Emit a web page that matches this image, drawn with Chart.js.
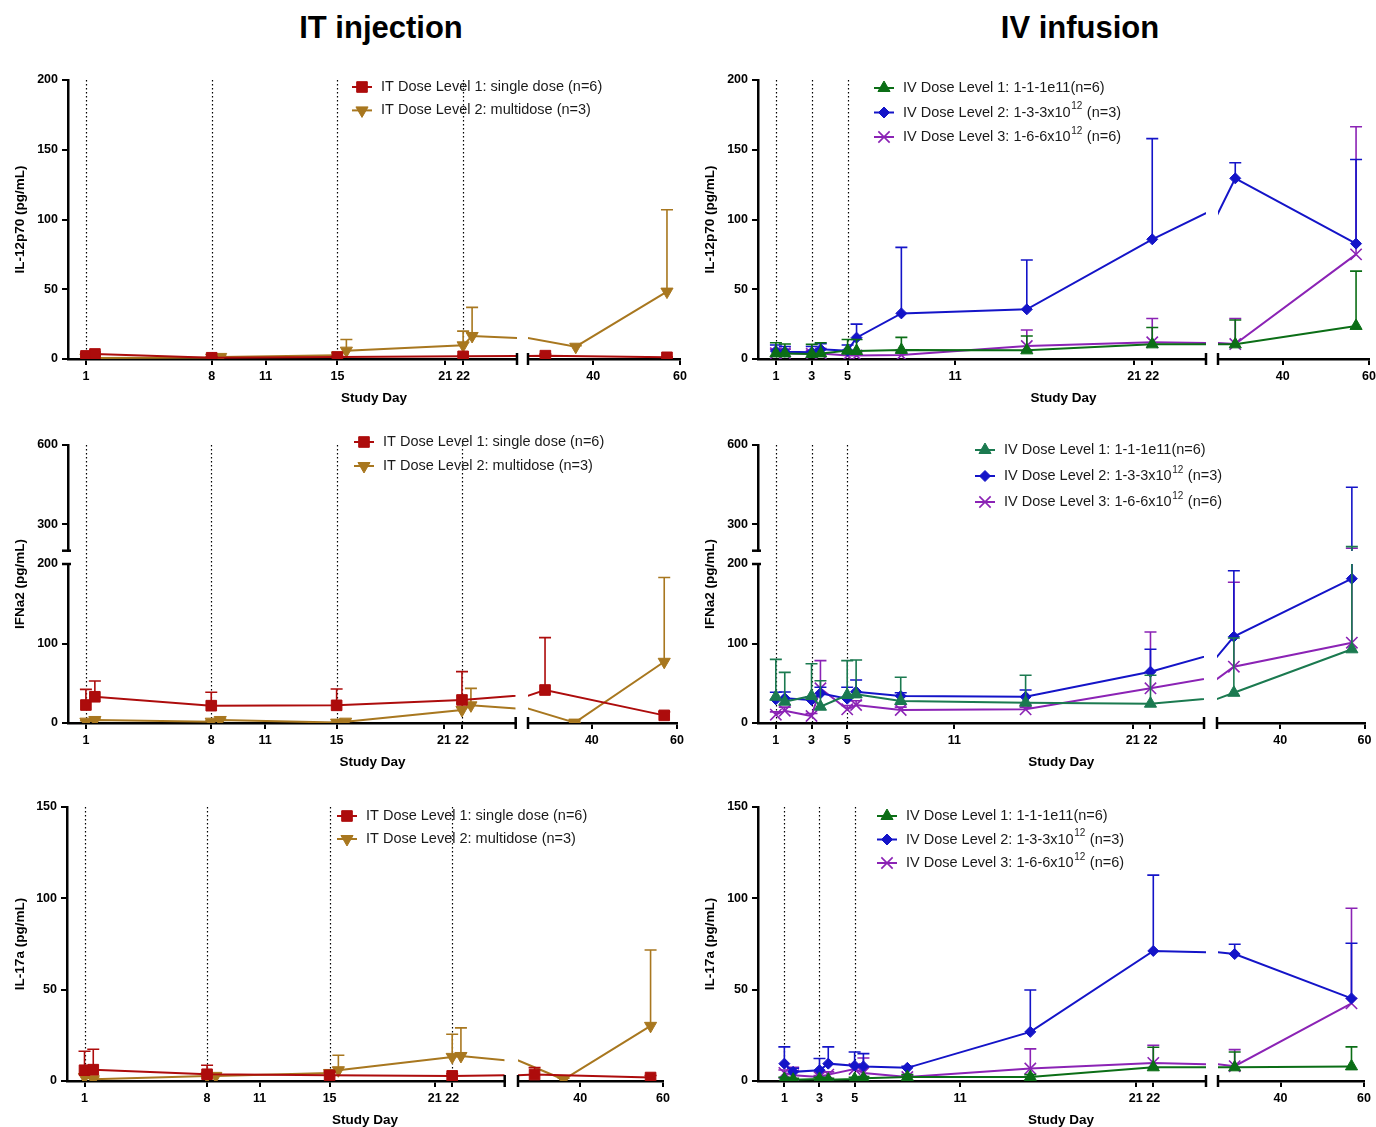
<!DOCTYPE html>
<html>
<head>
<meta charset="utf-8">
<script src="https://cdn.jsdelivr.net/npm/chart.js@4.4.1/dist/chart.umd.min.js"></script>
<style>
  body { margin: 0; background: #fff; width: 1376px; height: 1127px; position: relative; overflow: hidden;
         font-family: "Liberation Sans", Arial, sans-serif; }
  .col-title { position: absolute; top: 12px; width: 400px; text-align: center; font-weight: bold;
               font-size: 31px; line-height: 31px; color: #000; }
  canvas { position: absolute; }
</style>
</head>
<body>
<div class="col-title" style="left:181px">IT injection</div>
<div class="col-title" style="left:880px">IV infusion</div>
<canvas id="p1" width="690" height="350" style="left:0;top:60px"></canvas>
<canvas id="p2" width="686" height="350" style="left:690px;top:60px"></canvas>
<canvas id="p3" width="690" height="350" style="left:0;top:425px"></canvas>
<canvas id="p4" width="686" height="350" style="left:690px;top:425px"></canvas>
<canvas id="p5" width="690" height="337" style="left:0;top:790px"></canvas>
<canvas id="p6" width="686" height="337" style="left:690px;top:790px"></canvas>
<script>
// sampling days
const IT_DAYS_1 = [1, 1.5, 8, 15, 22, 29, 57];
const IT_DAYS_2 = [1, 1.5, 8, 8.5, 15, 15.5, 22, 22.5, 36, 57];
const IV_DAYS = [1, 1.5, 3, 3.5, 5, 5.5, 8, 15, 22, 29, 57];

// axis ticks
const IT_TICKS_LEFT = [1, 8, 11, 15, 21, 22];
const IV_TICKS_LEFT = [1, 3, 5, 11, 21, 22];
const TICKS_RIGHT = [40, 60];
const IT_DOSE_DAYS = [1, 8, 15, 22];
const IV_DOSE_DAYS = [1, 3, 5];
const Y_TICKS_IL12 = [0, 50, 100, 150, 200];
const Y_TICKS_IFN_LOW = [0, 100, 200];
const Y_TICKS_IFN_HIGH = [300, 600];
const Y_TICKS_IL17 = [0, 50, 100, 150];

// legend labels (text, superscript, tail)
const IT_LABELS = [['IT Dose Level 1: single dose (n=6)'], ['IT Dose Level 2: multidose (n=3)']];
const IV_LABELS = [['IV Dose Level 1: 1-1-1e11(n=6)'], ['IV Dose Level 2: 1-3-3x10', '12', ' (n=3)'], ['IV Dose Level 3: 1-6-6x10', '12', ' (n=6)']];

// IL-12p70 mean and upper error
const IL12_IT1 = [2.2, 3.6, 0.9, 1.4, 1.9, 2.4, 1.2];
const IL12_IT1_ERR = [4, 5, 1.5, 2, 2.5, 3.5, 1.5];
const IL12_IT2 = [0.8, 0.8, 1, 1.5, 2.6, 6, 9.8, 16.5, 8.8, 48.3];
const IL12_IT2_ERR = [1.5, 1.5, 1.5, 2, 4, 14, 20, 37, 9.5, 107];
const IL12_IV1 = [4, 4, 3.5, 4, 6, 5.7, 6.5, 6.2, 10.5, 10.5, 23.7];
const IL12_IV1_ERR = [11.7, 10.8, 10.5, 11.7, 14, 14, 15.5, 16.5, 22.6, 28, 63];
const IL12_IV2 = [5.7, 5.2, 4.8, 6.9, 6, 15.3, 32.7, 35.6, 85.8, 129.5, 82.7];
const IL12_IV2_ERR = [10, 9, 9, 11, 10, 25, 80, 71, 158, 140.7, 143];
const IL12_IV3 = [4.2, 4.2, 3.7, 4, 2.5, 2.5, 2.8, 9.3, 12, 10.7, 75];
const IL12_IV3_ERR = [7, 7, 6, 7, 5, 5, 5, 20.8, 29, 29, 166.5];

// IFNa2
const IFN_IT1 = [22.6, 33, 21.8, 22.2, 29, 41.5, 9.6];
const IFN_IT1_ERR = [42.3, 52.8, 38.6, 42.7, 64.6, 107.4, 14];
const IFN_IT2 = [1.7, 3.8, 1.7, 3.8, 0.5, 1.7, 16.4, 22.2, 0.5, 77];
const IFN_IT2_ERR = [3, 5, 3, 5, 1, 3, 25, 43.6, 1, 183];
const IFN_IV1 = [33, 26.8, 34, 20.5, 35.2, 36, 27.7, 25.6, 24.3, 38, 92.7];
const IFN_IV1_ERR = [80, 63.7, 74.6, 53.2, 78.4, 79.2, 57.5, 60, 60, 107, 215.5];
const IFN_IV2 = [29.8, 31, 29, 37.3, 30.6, 39.4, 34, 32.9, 64.5, 108.6, 181.5];
const IFN_IV2_ERR = [38.6, 39, 33, 45, 45, 54, 38, 41.5, 92.7, 191.6, 440];
const IFN_IV3 = [10.5, 15.5, 8.8, 43.6, 17.2, 22.6, 16.4, 17.2, 43.6, 70.8, 101];
const IFN_IV3_ERR = [14, 20, 12, 78.4, 22, 28, 20, 20, 114.5, 177, 209];

// IL-17a
const IL17_IT1 = [5.9, 6.2, 3.7, 3.1, 2.8, 3.5, 1.9];
const IL17_IT1_ERR = [16.3, 17.4, 8.6, 5, 4, 7.3, 3];
const IL17_IT2 = [2.2, 1, 2.8, 2.8, 4.4, 5.9, 13.2, 13.7, 0.8, 30.2];
const IL17_IT2_ERR = [4, 2, 4, 4, 6, 14.1, 25.6, 29.1, 1.5, 71.7];
const IL17_IV1 = [1.1, 0.7, 1.1, 0.7, 1.1, 1.5, 2.2, 2.2, 7.5, 7.5, 8];
const IL17_IV1_ERR = [2, 1.5, 2, 1.5, 2, 2.5, 3.5, 3.5, 18.5, 15.9, 18.7];
const IL17_IV2 = [9.5, 5, 5.9, 9.5, 8.4, 8, 7.2, 26.9, 71.2, 69.5, 45.2];
const IL17_IV2_ERR = [18.7, 7, 12.3, 18.7, 15.9, 15, 8, 49.8, 112.7, 74.9, 75.4];
const IL17_IV3 = [4.4, 3.1, 2.2, 3.5, 6.6, 4.4, 2.2, 6.8, 9.9, 8.1, 42.5];
const IL17_IV3_ERR = [6, 7.5, 3, 5, 9, 12.6, 3, 17.6, 19.6, 17.2, 94.6];

const RED = '#AD0C0C', GOLD = '#A8771F', GREEN = '#0B6E16', TEAL = '#1B7A50', BLUE = '#1414C8', PURPLE = '#8B23B5';
const FONT = '"Liberation Sans", Arial, sans-serif';
const XH = 30;

Chart.defaults.font.family = FONT;
Chart.defaults.color = '#000';

function itSeries(v1, e1, v2, e2) {
  return [
    {days: IT_DAYS_1, vals: v1, err: e1, color: RED, style: 'rect', rot: 0, radius: 7.5},
    {days: IT_DAYS_2, vals: v2, err: e2, color: GOLD, style: 'triangle', rot: 180, radius: 7}
  ];
}
function ivSeries(green, v1, e1, v2, e2, v3, e3) {
  return [
    {days: IV_DAYS, vals: v1, err: e1, color: green, style: 'triangle', rot: 0, radius: 7},
    {days: IV_DAYS, vals: v2, err: e2, color: BLUE, style: 'rectRot', rot: 0, radius: 5.5},
    {days: IV_DAYS, vals: v3, err: e3, color: PURPLE, style: 'crossRot', rot: 0, radius: 8}
  ];
}

const PANELS = {
  p1: {left: 0, top: 60, w: 690, h: 350, area: {l: 68, r: 680, t: 80, b: 359}, xw: [449, 11, 152], xMin: 0,
       yMax: 200, yTicks: Y_TICKS_IL12, yTitle: 'IL-12p70 (pg/mL)', ticksLeft: IT_TICKS_LEFT, doseDays: IT_DOSE_DAYS,
       legend: {x: 362, y: 27, dy: 23.4, labels: IT_LABELS},
       series: itSeries(IL12_IT1, IL12_IT1_ERR, IL12_IT2, IL12_IT2_ERR)},
  p2: {left: 690, top: 60, w: 686, h: 350, area: {l: 758, r: 1369, t: 80, b: 359}, xw: [448, 12, 151], xMin: 0,
       yMax: 200, yTicks: Y_TICKS_IL12, yTitle: 'IL-12p70 (pg/mL)', ticksLeft: IV_TICKS_LEFT, doseDays: IV_DOSE_DAYS,
       legend: {x: 194, y: 28, dy: 24.5, labels: IV_LABELS},
       series: ivSeries(GREEN, IL12_IV1, IL12_IV1_ERR, IL12_IV2, IL12_IV2_ERR, IL12_IV3, IL12_IV3_ERR)},
  p3: {left: 0, top: 425, w: 690, h: 350, area: {l: 68, r: 677, t: 445, b: 723}, xw: [447.7, 12.3, 149], xMin: 0,
       yBreak: true, yw: [105.7, 13.3, 159], yTicks: Y_TICKS_IFN_LOW, yTicksHigh: Y_TICKS_IFN_HIGH,
       yTitle: 'IFNa2 (pg/mL)', ticksLeft: IT_TICKS_LEFT, doseDays: IT_DOSE_DAYS,
       legend: {x: 364, y: 17, dy: 24, labels: IT_LABELS},
       series: itSeries(IFN_IT1, IFN_IT1_ERR, IFN_IT2, IFN_IT2_ERR)},
  p4: {left: 690, top: 425, w: 686, h: 350, area: {l: 758, r: 1364.5, t: 445, b: 723}, xw: [446, 13, 147.5], xMin: 0,
       yBreak: true, yw: [105.7, 13.3, 159], yTicks: Y_TICKS_IFN_LOW, yTicksHigh: Y_TICKS_IFN_HIGH,
       yTitle: 'IFNa2 (pg/mL)', ticksLeft: IV_TICKS_LEFT, doseDays: IV_DOSE_DAYS,
       legend: {x: 295, y: 25, dy: 26, labels: IV_LABELS},
       series: ivSeries(TEAL, IFN_IV1, IFN_IV1_ERR, IFN_IV2, IFN_IV2_ERR, IFN_IV3, IFN_IV3_ERR)},
  p5: {left: 0, top: 790, w: 690, h: 337, area: {l: 67, r: 663, t: 807, b: 1081}, xw: [437.7, 13.3, 145], xMin: 0,
       yMax: 150, yTicks: Y_TICKS_IL17, yTitle: 'IL-17a (pg/mL)', ticksLeft: IT_TICKS_LEFT, doseDays: IT_DOSE_DAYS,
       legend: {x: 347, y: 26, dy: 23, labels: IT_LABELS},
       series: itSeries(IL17_IT1, IL17_IT1_ERR, IL17_IT2, IL17_IT2_ERR)},
  p6: {left: 690, top: 790, w: 686, h: 337, area: {l: 758, r: 1364, t: 807, b: 1081}, xw: [448, 12, 146], xMin: -0.5,
       yMax: 150, yTicks: Y_TICKS_IL17, yTitle: 'IL-17a (pg/mL)', ticksLeft: IV_TICKS_LEFT, doseDays: IV_DOSE_DAYS,
       legend: {x: 197, y: 26, dy: 23.5, labels: IV_LABELS},
       series: ivSeries(GREEN, IL17_IV1, IL17_IV1_ERR, IL17_IV2, IL17_IV2_ERR, IL17_IV3, IL17_IV3_ERR)}
};

function marker(ctx, s, x, y) {
  ctx.fillStyle = s.color; ctx.strokeStyle = s.color;
  ctx.lineWidth = s.style === 'crossRot' ? 1.6 : 1;
  if (Chart.helpers && Chart.helpers.drawPoint) {
    Chart.helpers.drawPoint(ctx, {pointStyle: s.style, rotation: s.rot, radius: s.radius, borderWidth: ctx.lineWidth}, x, y);
  } else {
    ctx.beginPath(); ctx.arc(x, y, 5, 0, Math.PI * 2); ctx.fill();
  }
}

const brokenAxisPlugin = {
  id: 'brokenAxis',
  beforeDatasetsDraw(chart) {
    const p = PANELS[chart.canvas.id];
    const ctx = chart.ctx, area = chart.chartArea, xl = chart.scales.xL;
    ctx.save();
    ctx.strokeStyle = '#000'; ctx.lineWidth = 1.2; ctx.setLineDash([1.4, 2.6]);
    p.doseDays.forEach(d => {
      const x = Math.round(xl.getPixelForValue(d)) + 0.5;
      ctx.beginPath(); ctx.moveTo(x, area.top); ctx.lineTo(x, area.bottom); ctx.stroke();
    });
    ctx.restore();
  },
  beforeDatasetDraw(chart, args) {
    const p = PANELS[chart.canvas.id];
    const ctx = chart.ctx, area = chart.chartArea, xs = args.meta.xScale;
    const ys = chart.scales.y, yU = chart.scales.yU;
    ctx.save();
    ctx.beginPath();
    ctx.rect(xs.left, area.top - 12, xs.right - xs.left, area.bottom - area.top + 24);
    ctx.clip();
    // one-sided error bars, drawn under the markers
    const s = p.series[Math.floor(args.index / 2)];
    ctx.strokeStyle = s.color; ctx.lineWidth = 1.6;
    s.days.forEach((d, i) => {
      const hi = s.err[i], v = s.vals[i];
      if (hi == null || hi <= v) return;
      const x = xs.getPixelForValue(d);
      const y0 = ys.getPixelForValue(v);
      let y1;
      ctx.beginPath();
      if (yU && hi > ys.max) {
        ctx.moveTo(x, y0); ctx.lineTo(x, ys.top);
        y1 = yU.getPixelForValue(hi);
        ctx.moveTo(x, yU.bottom); ctx.lineTo(x, y1);
      } else {
        y1 = ys.getPixelForValue(hi);
        ctx.moveTo(x, y0); ctx.lineTo(x, y1);
      }
      ctx.moveTo(x - 6, y1); ctx.lineTo(x + 6, y1);
      ctx.stroke();
    });
  },
  afterDatasetDraw(chart) {
    chart.ctx.restore();
  },
  afterDraw(chart) {
    const p = PANELS[chart.canvas.id];
    const ctx = chart.ctx, area = chart.chartArea;
    const xL = chart.scales.xL, xR = chart.scales.xR, ys = chart.scales.y, yU = chart.scales.yU;
    ctx.save();
    // break marks
    ctx.strokeStyle = '#000'; ctx.lineWidth = 2.5;
    [xL.right, xR.left].forEach(x => {
      ctx.beginPath(); ctx.moveTo(x, area.bottom - 6); ctx.lineTo(x, area.bottom + 6); ctx.stroke();
    });
    if (yU) {
      [yU.bottom, ys.top].forEach(y => {
        ctx.beginPath(); ctx.moveTo(area.left - 6, y); ctx.lineTo(area.left + 3, y); ctx.stroke();
      });
    }
    // axis titles
    ctx.fillStyle = '#000';
    ctx.font = 'bold 13.5px ' + FONT;
    ctx.textAlign = 'center'; ctx.textBaseline = 'middle';
    ctx.fillText('Study Day', (area.left + area.right) / 2, area.bottom + 39);
    ctx.save();
    ctx.translate(20, (area.top + area.bottom) / 2);
    ctx.rotate(-Math.PI / 2);
    ctx.fillText(p.yTitle, 0, 0);
    ctx.restore();
    // legend
    const lg = p.legend;
    p.series.forEach((s, i) => {
      const y = lg.y + i * lg.dy;
      ctx.strokeStyle = s.color; ctx.lineWidth = 2;
      ctx.beginPath(); ctx.moveTo(lg.x - 10, y); ctx.lineTo(lg.x + 10, y); ctx.stroke();
      marker(ctx, s, lg.x, y);
      const parts = lg.labels[i];
      ctx.fillStyle = '#1a1a1a'; ctx.textAlign = 'left'; ctx.textBaseline = 'middle';
      let x = lg.x + 19;
      ctx.font = '14.5px ' + FONT;
      ctx.fillText(parts[0], x, y); x += ctx.measureText(parts[0]).width;
      if (parts[1]) {
        ctx.font = '10px ' + FONT;
        ctx.fillText(parts[1], x + 0.5, y - 6); x += ctx.measureText(parts[1]).width + 1;
        ctx.font = '14.5px ' + FONT;
        ctx.fillText(parts[2], x, y);
      }
    });
    ctx.restore();
  }
};

function buildPanel(id) {
  const p = PANELS[id];
  const YW = p.area.l - p.left;
  const padTop = p.area.t - p.top;
  const padRight = p.left + p.w - p.area.r;
  const padBottom = p.h - (p.area.b - p.top) - XH;
  const zeroPad = s => { s.paddingTop = 0; s.paddingBottom = 0; s.paddingLeft = 0; s.paddingRight = 0; };
  const fixW = s => { s.width = YW; zeroPad(s); };
  const fixH = s => { s.height = XH; zeroPad(s); };
  const border = {display: true, color: '#000', width: 2.5};
  const grid = {display: true, drawOnChartArea: false, drawTicks: true, tickLength: 6, color: '#000', lineWidth: 2};
  const tickFont = {size: 12.5, weight: 'bold'};

  const spacer = (axis, pos, weight, sw, fit) => ({
    type: 'linear', axis: axis, position: pos, display: true, min: 0, max: 1,
    stack: axis + 's', stackWeight: sw, weight: weight,
    grid: {display: false}, border: {display: false}, ticks: {display: false}, afterFit: fit
  });
  const xAxis = (min, max, ticks, weight, sw) => ({
    type: 'linear', axis: 'x', position: 'bottom', min: min, max: max,
    stack: 'xs', stackWeight: sw, weight: weight, border: border, grid: grid,
    ticks: {color: '#000', font: tickFont, padding: 4, autoSkip: false, maxRotation: 0, callback: v => String(v)},
    afterBuildTicks: a => { a.ticks = ticks.map(v => ({value: v})); },
    afterFit: fixH
  });
  const yAxis = (min, max, ticks, extra) => Object.assign({
    type: 'linear', axis: 'y', position: 'left', min: min, max: max, border: border, grid: grid,
    ticks: {color: '#000', font: tickFont, padding: 4, autoSkip: false, callback: v => String(v)},
    afterBuildTicks: a => { a.ticks = ticks.map(v => ({value: v})); },
    afterFit: fixW
  }, extra);

  const scales = {
    xL: xAxis(p.xMin, 25, p.ticksLeft, 0, p.xw[0]),
    xG: spacer('x', 'bottom', 1, p.xw[1], fixH),
    xR: xAxis(25, 60, TICKS_RIGHT, 2, p.xw[2])
  };
  if (p.yBreak) {
    scales.yU = yAxis(200, 600, p.yTicksHigh, {stack: 'ys', stackWeight: p.yw[0], weight: 2});
    scales.yG = spacer('y', 'left', 1, p.yw[1], fixW);
    scales.y = yAxis(0, 200, p.yTicks, {stack: 'ys', stackWeight: p.yw[2], weight: 0});
  } else {
    scales.y = yAxis(0, p.yMax, p.yTicks, {});
  }

  const datasets = [];
  p.series.forEach(s => {
    ['xL', 'xR'].forEach(xid => {
      datasets.push({
        data: s.days.map((d, i) => ({x: d, y: s.vals[i]})),
        xAxisID: xid, yAxisID: 'y',
        borderColor: s.color, backgroundColor: s.color, borderWidth: 2,
        pointStyle: s.style, pointRotation: s.rot, pointRadius: s.radius,
        pointBackgroundColor: s.color, pointBorderColor: s.color,
        pointBorderWidth: s.style === 'crossRot' ? 1.6 : 1,
        tension: 0, fill: false
      });
    });
  });

  return new Chart(document.getElementById(id), {
    type: 'line',
    data: {datasets: datasets},
    options: {
      responsive: false, animation: false, events: [],
      layout: {autoPadding: false, padding: {left: 0, top: padTop, right: padRight, bottom: padBottom}},
      scales: scales,
      plugins: {legend: {display: false}, tooltip: {enabled: false}, title: {display: false}}
    },
    plugins: [brokenAxisPlugin]
  });
}

Object.keys(PANELS).forEach(buildPanel);
</script>
</body>
</html>
